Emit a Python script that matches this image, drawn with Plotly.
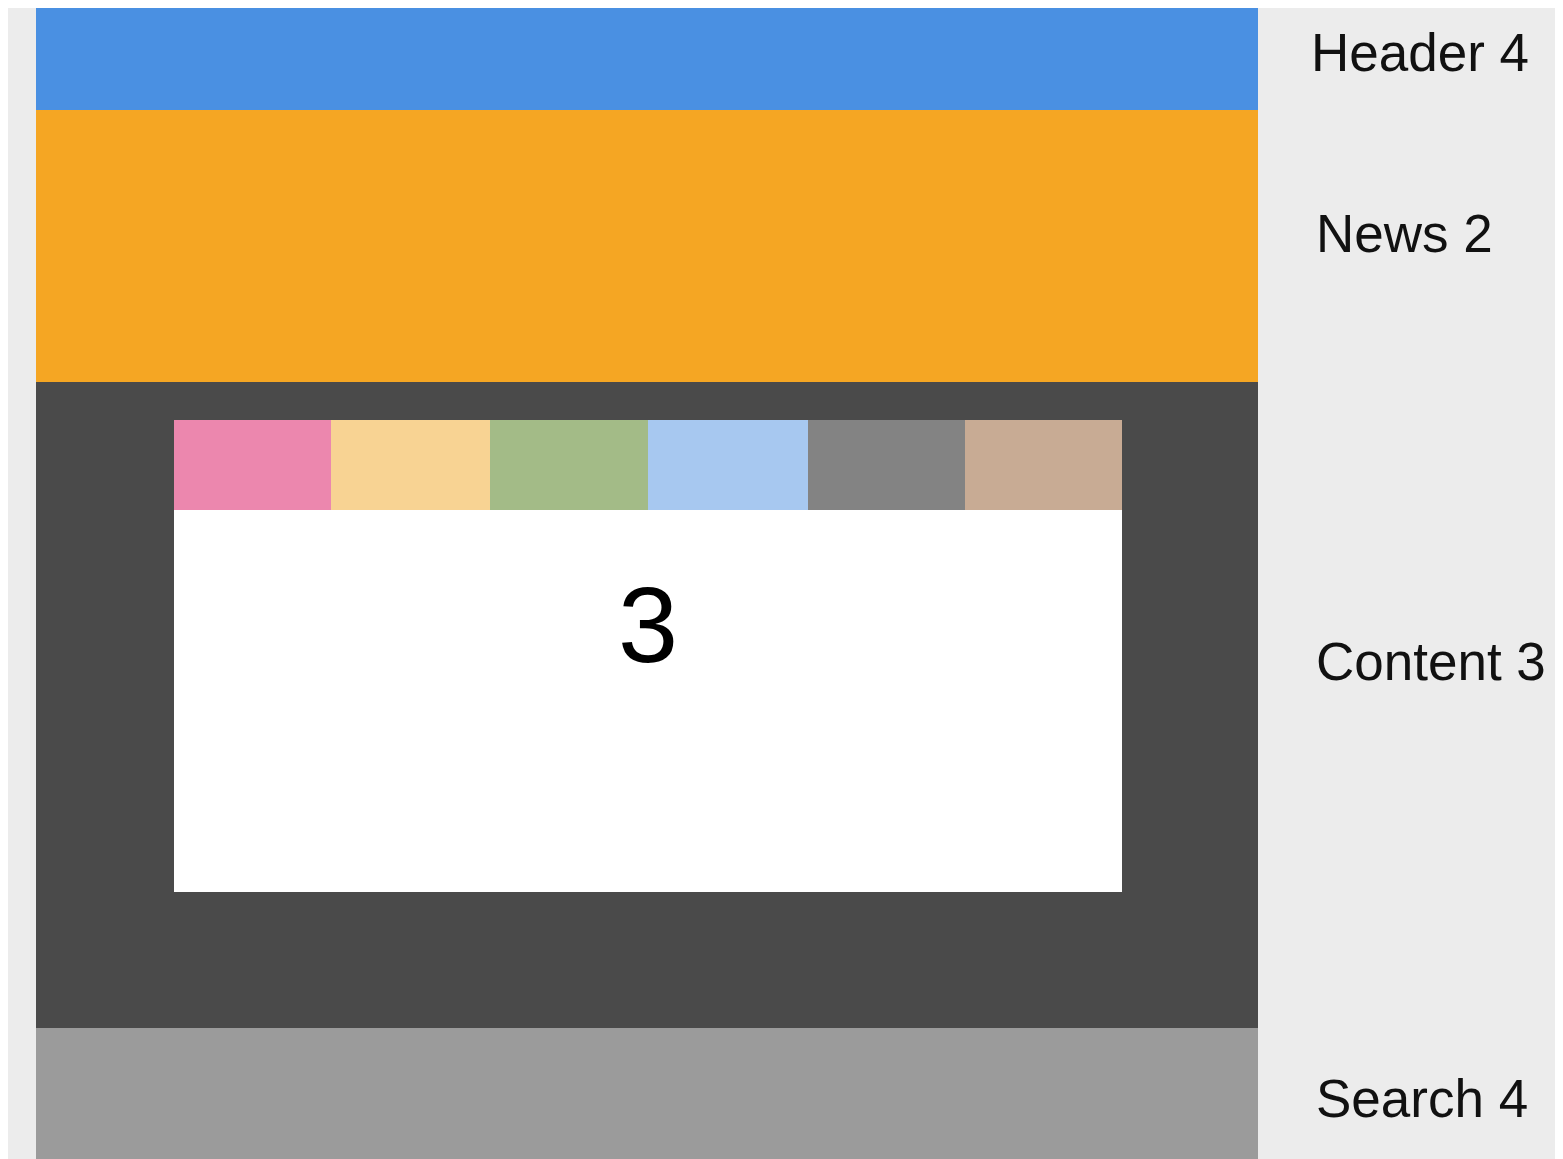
import plotly.graph_objects as go

# Sections of the page layout (top to bottom)
section_names = ["Header", "News", "Content", "Search"]
section_counts = [4, 2, 3, 4]
section_colors = ["#4a90e2", "#f5a623", "#4a4a4a", "#9b9b9b"]
section_top = [3, 110, 382, 1028]
section_bottom = [110, 382, 1028, 1180]
label_y = [58, 239, 667, 1104]
label_x = [1311, 1316, 1316, 1316]

# Tabs inside the content block
tab_colors = ["#ec87ae", "#f8d393", "#a3bb87", "#a7c8f0", "#838383", "#c8ab94"]
tab_left = [174, 331, 490, 648, 808, 965]
tab_right = [331, 490, 648, 808, 965, 1122]
tab_top, tab_bottom = 420, 510

# White content card
card_left, card_right, card_top, card_bottom = 174, 1122, 510, 892
card_value = "3"
card_value_y = 635

col_left, col_right = 36, 1258

# the page body has an 8px margin; shift the axes so page pixels match data units
OFF = 8

fig = go.Figure()

# section bands
fig.add_trace(go.Bar(
    x=[(col_left + col_right) / 2] * len(section_names),
    width=[col_right - col_left] * len(section_names),
    base=section_top,
    y=[b - t for t, b in zip(section_top, section_bottom)],
    marker=dict(color=section_colors, line=dict(width=0)),
    hoverinfo="skip", showlegend=False,
))

# card
fig.add_trace(go.Bar(
    x=[(card_left + card_right) / 2], width=[card_right - card_left],
    base=[card_top], y=[card_bottom - card_top],
    marker=dict(color="#ffffff", line=dict(width=0)),
    hoverinfo="skip", showlegend=False,
))

# tabs
fig.add_trace(go.Bar(
    x=[(l + r) / 2 for l, r in zip(tab_left, tab_right)],
    width=[r - l for l, r in zip(tab_left, tab_right)],
    base=[tab_top] * len(tab_colors),
    y=[tab_bottom - tab_top] * len(tab_colors),
    marker=dict(color=tab_colors, line=dict(width=0)),
    hoverinfo="skip", showlegend=False,
))

# section labels
fig.add_trace(go.Scatter(
    x=label_x, y=label_y, mode="text",
    text=[f"{n} {c}" for n, c in zip(section_names, section_counts)],
    textposition="middle right",
    textfont=dict(family="Liberation Sans, Arial, sans-serif", size=53, color="#111111"),
    hoverinfo="skip", showlegend=False,
))

# card number
fig.add_trace(go.Scatter(
    x=[(card_left + card_right) / 2], y=[card_value_y], mode="text",
    text=[card_value], textposition="middle center",
    textfont=dict(family="Liberation Sans, Arial, sans-serif", size=108, color="#000000"),
    hoverinfo="skip", showlegend=False,
))

fig.update_layout(
    width=1563, height=1159,
    margin=dict(l=0, r=0, t=0, b=0),
    paper_bgcolor="#ececec", plot_bgcolor="#ececec",
    barmode="overlay", bargap=0,
    xaxis=dict(range=[OFF, 1563 + OFF], visible=False, fixedrange=True),
    yaxis=dict(range=[1159 + OFF, OFF], visible=False, fixedrange=True),
)

fig.write_html("out.html")
